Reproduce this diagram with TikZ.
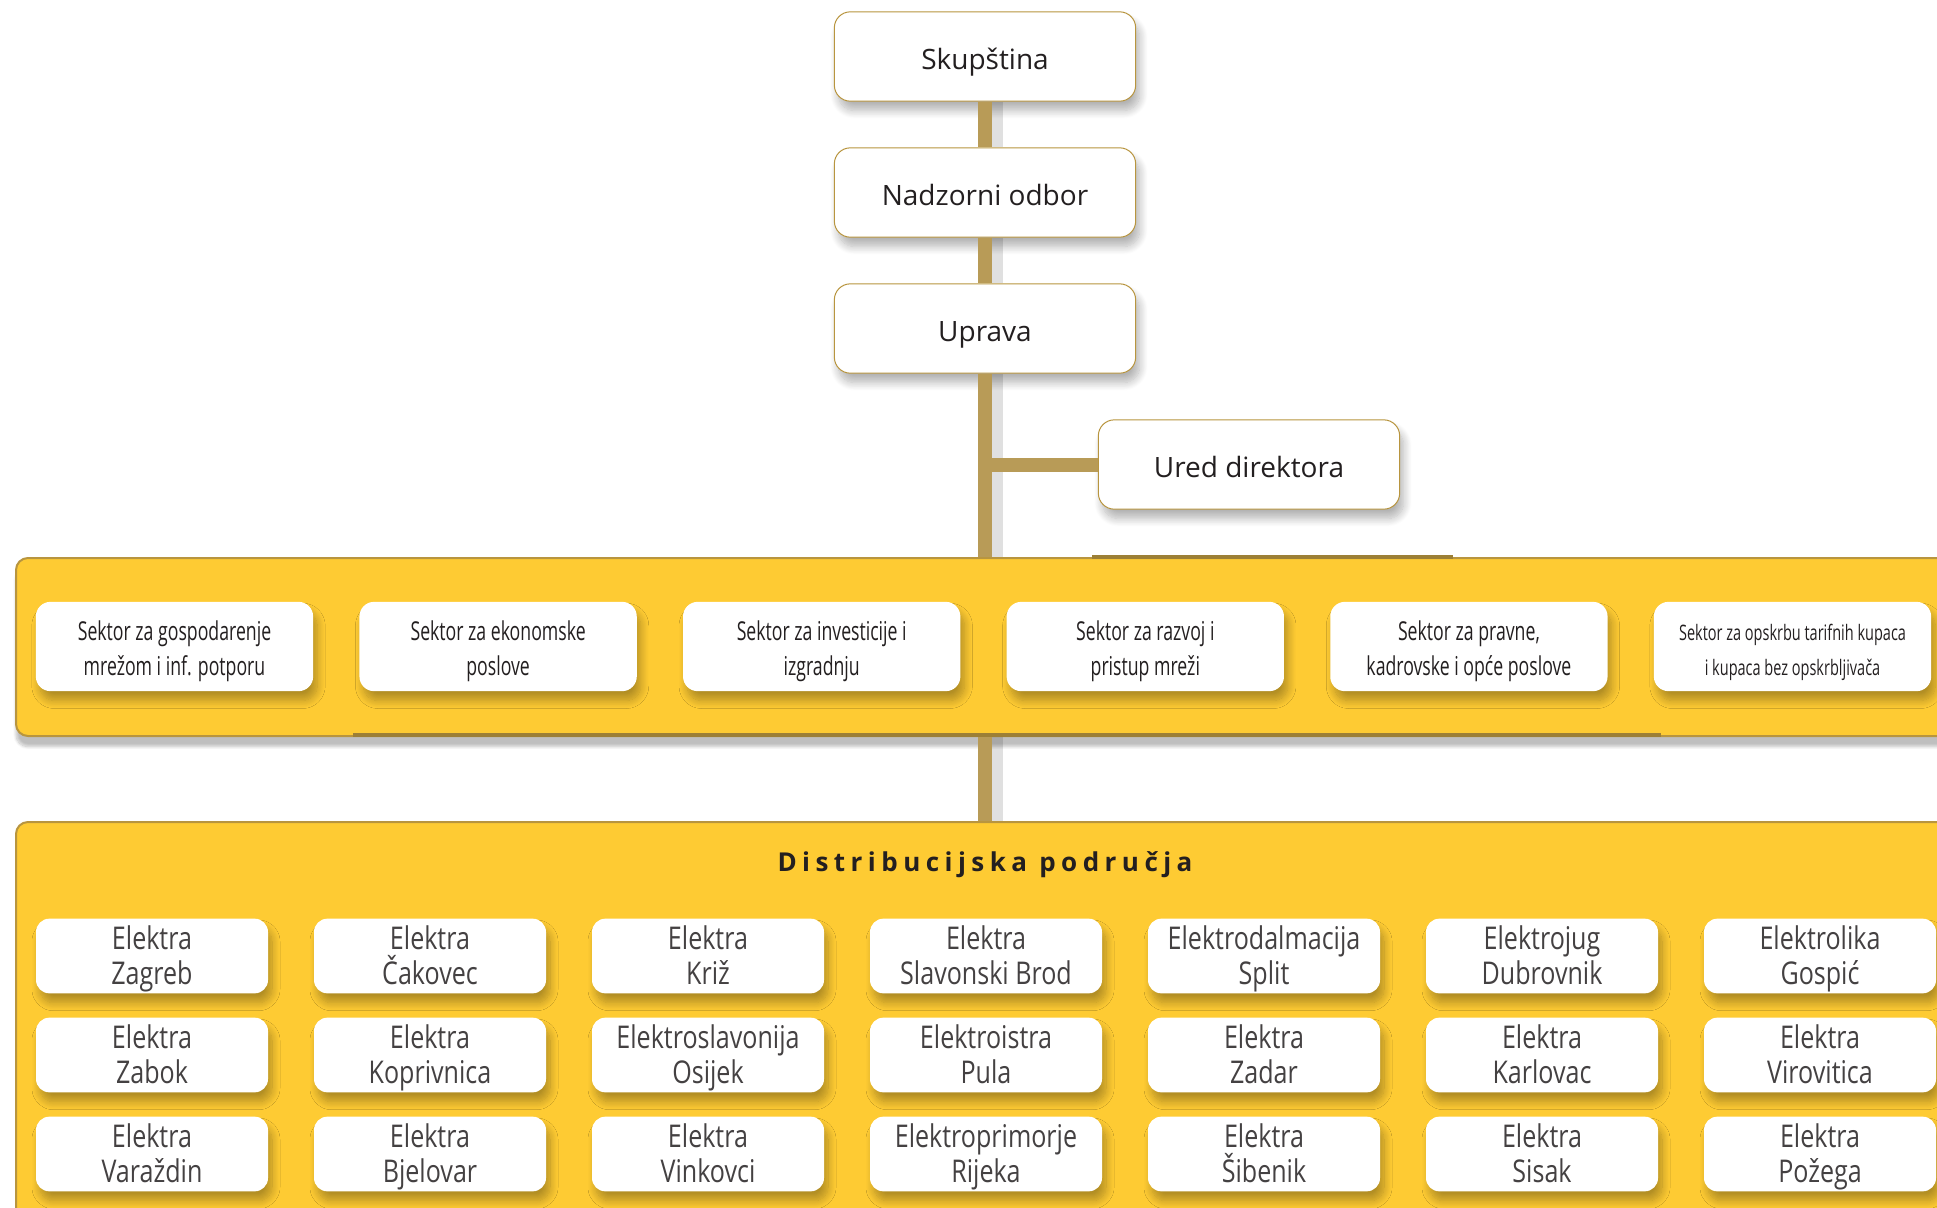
\documentclass[tikz,border=0pt]{standalone}
\usepackage{fontspec}
\setmainfont{Open Sans}
\newfontfamily\sekfont[FakeStretch=0.68]{Open Sans}
\newfontfamily\elfont[FakeStretch=0.8]{Open Sans}
\newfontfamily\naslovfont[LetterSpace=21]{Open Sans}
\usetikzlibrary{shadows.blur}

\definecolor{zuta}{HTML}{FECB33}
\definecolor{zlatna}{HTML}{B8953F}
\definecolor{smeda}{HTML}{B89B57}
\definecolor{tamna}{HTML}{231F20}

% podupirači redaka (gornji i donji)
\newcommand\sekgore{\rule{0pt}{25.5pt}}
\newcommand\sekdolje{\rule[-7.8pt]{0pt}{7.8pt}}
\newcommand\elgore{\rule{0pt}{23pt}}
\newcommand\eldolje{\rule[-7pt]{0pt}{7pt}}
\newcommand\bezrazmaka{\lineskiplimit-30pt\relax}

\tikzset{every picture/.style={line width=0.75pt}}
\tikzset{
  sjena/.style={blur shadow={shadow xshift=3pt, shadow yshift=-7pt, shadow blur radius=6pt, shadow blur steps=12, shadow opacity=30}},
  uprbox/.style={draw=zlatna, fill=white, rounded corners=12pt, minimum width=226pt, minimum height=67pt, inner sep=0pt, text height=18.8pt, text depth=0pt, text=tamna, font=\fontsize{21}{25}\selectfont, sjena},
  sekbox/.style={fill=white, rounded corners=11pt, minimum width=208pt, minimum height=67pt, inner sep=0pt, align=center, text=tamna, font=\sekfont\fontsize{19.5}{26}\selectfont\bezrazmaka, sjena},
  elbox/.style={fill=white, rounded corners=10pt, minimum width=174pt, minimum height=55.5pt, inner sep=0pt, align=center, text=tamna!85, font=\elfont\fontsize{23.5}{26}\selectfont\bezrazmaka, sjena},
  pojas/.style={draw=zlatna, fill=zuta, rounded corners=9pt, line width=1.5pt, inner sep=0pt, anchor=north west},
  deblo/.style={draw=smeda, line width=10.5pt},
  deblosjena/.style={draw=black, opacity=0.12, line width=9pt},
  naslov/.style={text=tamna, font=\naslovfont\bfseries\fontsize{19.5}{23}\selectfont},
}

\begin{document}
\begin{tikzpicture}[x=0.75pt,y=0.75pt,yscale=-1,xscale=1]
\useasboundingbox (0,0) rectangle (1937,1207);
\clip (0,0) rectangle (1937,1207);

% Sektori
\node[pojas, minimum width=1458.75pt, minimum height=133.5pt, blur shadow={shadow xshift=0pt, shadow yshift=-8pt, shadow blur steps=10, shadow opacity=25}] (sektori) at (15,557) {};
\draw[zlatna!85!black, line width=2.5pt] (1092,557) -- (1453,557);
\draw[zlatna!85!black, line width=2.5pt] (353,735) -- (1661,735);
\foreach \gore/\dolje [count=\i from 0] in {Sektor za gospodarenje/mrežom i inf. potporu, Sektor za ekonomske/poslove, Sektor za investicije i/izgradnju, Sektor za razvoj i/pristup mreži, {Sektor za pravne,}/kadrovske i opće poslove}
  \node[sekbox] (sek\i) at (174.5+323.6*\i,646.5) {\sekgore\gore\\\dolje\sekdolje};
\node[sekbox, font=\sekfont\fontsize{16}{26}\selectfont\bezrazmaka] (sek5) at (1792.5,646.5) {\sekgore Sektor za opskrbu tarifnih kupaca\\i kupaca bez opskrbljivača\sekdolje};

% Distribucijska podrucja
\node[pojas, minimum width=1458.75pt, minimum height=300pt] (podrucja) at (15,821) {};
\node[naslov] (naslov) at (985,865) {Distribucijska područja};
\foreach \gore/\dolje [count=\k from 0] in {Elektra/Zagreb, Elektra/Čakovec, Elektra/Križ, Elektra/Slavonski Brod, Elektrodalmacija/Split, Elektrojug/Dubrovnik, Elektrolika/Gospić, Elektra/Zabok, Elektra/Koprivnica, Elektroslavonija/Osijek, Elektroistra/Pula, Elektra/Zadar, Elektra/Karlovac, Elektra/Virovitica, Elektra/Varaždin, Elektra/Bjelovar, Elektra/Vinkovci, Elektroprimorje/Rijeka, Elektra/Šibenik, Elektra/Sisak, Elektra/Požega}{
  \pgfmathtruncatemacro\stupac{mod(\k,7)}
  \pgfmathtruncatemacro\redak{div(\k,7)}
  \node[elbox] (el-\redak-\stupac) at (152+278*\stupac,956+99*\redak) {\elgore\gore\\\dolje\eldolje};
}

% Uprava
\node[uprbox] (skupstina) at (985,56.5) {Skupština};
\node[uprbox] (nadzor) at (985,192.5) {Nadzorni odbor};
\node[uprbox] (uprava) at (985,328.5) {Uprava};
\node[uprbox] (ured) at (1249,464.5) {Ured direktora};

% Deblo
\draw[deblosjena] ([xshift=9pt]skupstina.south) -- ([xshift=9pt]nadzor.north);
\draw[deblosjena] ([xshift=9pt]nadzor.south) -- ([xshift=9pt]uprava.north);
\draw[deblosjena] ([xshift=9pt]uprava.south) -- ([xshift=9pt]uprava.south |- sektori.north);
\draw[deblosjena] ([xshift=9pt]uprava.south |- sektori.south) -- ([xshift=9pt]uprava.south |- podrucja.north);
\draw[deblo] (skupstina) -- (nadzor);
\draw[deblo] (nadzor) -- (uprava);
\draw[deblo] (uprava) -- (uprava.south |- sektori.north);
\draw[deblo] (uprava.south |- sektori.south) -- (uprava.south |- podrucja.north);
\draw[deblo] (uprava.south |- ured.west) -- (ured.west);

\end{tikzpicture}
\end{document}
